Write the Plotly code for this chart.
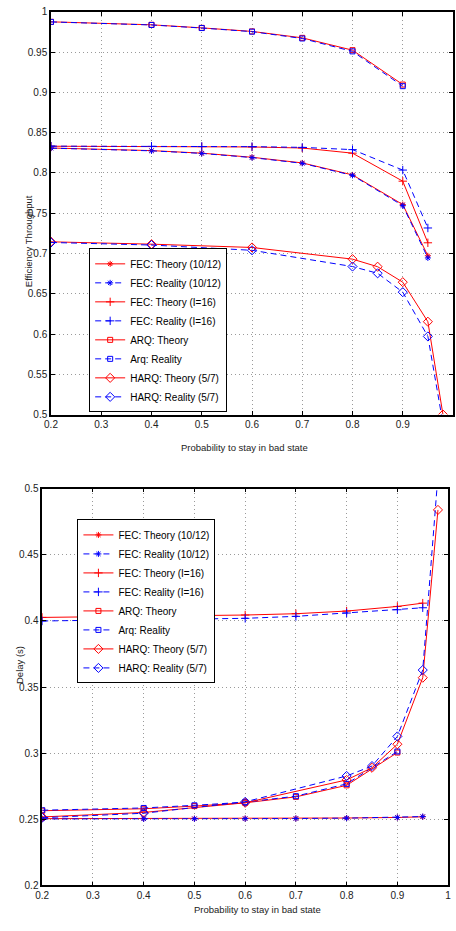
import plotly.graph_objects as go

W, H = 456, 931

# ---------------- data ----------------
x_fec = [0.2, 0.4, 0.5, 0.6, 0.7, 0.8, 0.9, 0.95]
x_arq = [0.2, 0.4, 0.5, 0.6, 0.7, 0.8, 0.9]
x_harq = [0.2, 0.4, 0.6, 0.8, 0.85, 0.9, 0.95, 0.98]

series_names = ["FEC: Theory (10/12)", "FEC: Reality (10/12)",
                "FEC: Theory (I=16)", "FEC: Reality (I=16)",
                "ARQ: Theory", "Arq: Reality",
                "HARQ: Theory (5/7)", "HARQ: Reality (5/7)"]

# Efficiency throughput (top panel)
thr_fec1012_theory = [0.831, 0.8278, 0.8246, 0.8195, 0.8125, 0.7976, 0.7608, 0.6972]
thr_fec1012_reality = [0.8308, 0.8275, 0.8243, 0.8191, 0.812, 0.797, 0.7595, 0.6945]
thr_fec16_theory = [0.8332, 0.8329, 0.8327, 0.8323, 0.831, 0.8246, 0.7898, 0.7133]
thr_fec16_reality = [0.8333, 0.8331, 0.8329, 0.8327, 0.8318, 0.829, 0.8036, 0.7317]
thr_arq_theory = [0.9877, 0.984, 0.9802, 0.9758, 0.9678, 0.9525, 0.9098]
thr_arq_reality = [0.9876, 0.9838, 0.98, 0.9755, 0.967, 0.951, 0.9078]
thr_harq_theory = [0.7145, 0.7116, 0.7075, 0.693, 0.6836, 0.6644, 0.6153, 0.500]
thr_harq_reality = [0.7137, 0.7105, 0.704, 0.6838, 0.6754, 0.652, 0.597, 0.489]

# Delay (bottom panel)
del_fec1012_theory = [0.2505, 0.2505, 0.2505, 0.2506, 0.2507, 0.251, 0.2514, 0.2519]
del_fec1012_reality = [0.2503, 0.2503, 0.2504, 0.2505, 0.2506, 0.2509, 0.2514, 0.2521]
del_fec16_theory = [0.4027, 0.4035, 0.404, 0.4045, 0.4055, 0.4075, 0.411, 0.4135]
del_fec16_reality = [0.4, 0.401, 0.4015, 0.402, 0.4035, 0.406, 0.4085, 0.41]
del_arq_theory = [0.2565, 0.258, 0.26, 0.2625, 0.267, 0.2757, 0.3005]
del_arq_reality = [0.2569, 0.2586, 0.2606, 0.263, 0.2675, 0.2768, 0.3013]
del_harq_theory = [0.2518, 0.2552, 0.2625, 0.2798, 0.289, 0.3068, 0.3571, 0.484]
del_harq_reality = [0.2512, 0.2546, 0.2632, 0.2828, 0.2903, 0.3127, 0.3629, 0.51]

x_ticks = [0.2, 0.3, 0.4, 0.5, 0.6, 0.7, 0.8, 0.9, 1.0]
x_tick_labels = ["0.2", "0.3", "0.4", "0.5", "0.6", "0.7", "0.8", "0.9", "1"]
thr_ticks = [0.5, 0.55, 0.6, 0.65, 0.7, 0.75, 0.8, 0.85, 0.9, 0.95, 1.0]
thr_tick_labels = ["0.5", "0.55", "0.6", "0.65", "0.7", "0.75", "0.8", "0.85", "0.9", "0.95", "1"]
del_ticks = [0.2, 0.25, 0.3, 0.35, 0.4, 0.45, 0.5]
del_tick_labels = ["0.2", "0.25", "0.3", "0.35", "0.4", "0.45", "0.5"]

RED = "#ff0000"
BLUE = "#0000ff"
FONT = "Liberation Sans, Arial, sans-serif"
DASH = "6px,4px"

styles = [
    (RED, "solid", "asterisk-open", 5),
    (BLUE, DASH, "asterisk-open", 5),
    (RED, "solid", "cross-thin-open", 6),
    (BLUE, DASH, "cross-thin-open", 6),
    (RED, "solid", "square-open", 5),
    (BLUE, DASH, "square-open", 5),
    (RED, "solid", "diamond-open", 7),
    (BLUE, DASH, "diamond-open", 7),
]

top_sets = [(x_fec, thr_fec1012_theory), (x_fec, thr_fec1012_reality),
            (x_fec, thr_fec16_theory), (x_fec, thr_fec16_reality),
            (x_arq, thr_arq_theory), (x_arq, thr_arq_reality),
            (x_harq, thr_harq_theory), (x_harq, thr_harq_reality)]
bot_sets = [(x_fec, del_fec1012_theory), (x_fec, del_fec1012_reality),
            (x_fec, del_fec16_theory), (x_fec, del_fec16_reality),
            (x_arq, del_arq_theory), (x_arq, del_arq_reality),
            (x_harq, del_harq_theory), (x_harq, del_harq_reality)]

fig = go.Figure()

for (xs, ys), name, (c, d, sym, sz) in zip(top_sets, series_names, styles):
    fig.add_trace(go.Scatter(
        x=xs, y=ys, name=name, mode="lines+markers",
        line=dict(color=c, width=1, dash=d),
        marker=dict(symbol=sym, size=sz, color=c, line=dict(color=c, width=1)),
        xaxis="x", yaxis="y", legend="legend"))

for (xs, ys), name, (c, d, sym, sz) in zip(bot_sets, series_names, styles):
    fig.add_trace(go.Scatter(
        x=xs, y=ys, name=name, mode="lines+markers",
        line=dict(color=c, width=1, dash=d),
        marker=dict(symbol=sym, size=sz, color=c, line=dict(color=c, width=1)),
        xaxis="x2", yaxis="y2", legend="legend2"))

axis_common = dict(
    showline=True, linecolor="black", linewidth=1.5, mirror="ticks",
    ticks="inside", ticklen=4, tickcolor="black", tickwidth=1,
    showgrid=True, gridcolor="#9a9a9a", gridwidth=1, griddash="1px,3px",
    zeroline=False, tickfont=dict(family=FONT, size=10, color="#222222"),
)

legend_common = dict(
    xanchor="left", yanchor="top",
    bgcolor="white", bordercolor="black", borderwidth=1,
    font=dict(family=FONT, size=10, color="black"),
    itemwidth=30, tracegroupgap=0,
)

fig.update_layout(
    width=W, height=H,
    margin=dict(l=0, r=0, t=0, b=0),
    paper_bgcolor="white", plot_bgcolor="white",
    font=dict(family=FONT, size=10, color="black"),
    xaxis=dict(domain=[45 / W, 1.0], range=[0.2, 1.0], anchor="y",
               tickvals=x_ticks, ticktext=x_tick_labels, **axis_common),
    yaxis=dict(domain=[1 - 414 / H, 1 - 7 / H], range=[0.5, 1.0], anchor="x",
               tickvals=thr_ticks, ticktext=thr_tick_labels, **axis_common),
    xaxis2=dict(domain=[36 / W, 451 / W], range=[0.2, 1.0], anchor="y2",
                tickvals=x_ticks, ticktext=x_tick_labels, **axis_common),
    yaxis2=dict(domain=[1 - 890 / H, 1 - 489 / H], range=[0.2, 0.5], anchor="x2",
                tickvals=del_ticks, ticktext=del_tick_labels, **axis_common),
    legend=dict(x=84 / W, y=1 - 246 / H, **legend_common),
    legend2=dict(x=72 / W, y=1 - 520 / H, **legend_common),
    showlegend=True,
    annotations=[
        dict(text="Probability to stay in bad state", x=243 / W, y=1 - 447 / H,
             xref="paper", yref="paper", showarrow=False,
             font=dict(family=FONT, size=9.5, color="#222222")),
        dict(text="Probability to stay in bad state", x=256 / W, y=1 - 922 / H,
             xref="paper", yref="paper", showarrow=False,
             font=dict(family=FONT, size=9.5, color="#222222")),
        dict(text="Efficiency Throughput", x=15 / W, y=1 - 190 / H, textangle=-90,
             xref="paper", yref="paper", showarrow=False,
             font=dict(family=FONT, size=9.5, color="#222222")),
        dict(text="Delay (s)", x=5 / W, y=1 - 688 / H, textangle=-90,
             xref="paper", yref="paper", showarrow=False,
             font=dict(family=FONT, size=9.5, color="#222222")),
    ],
)

fig.write_html(
    "out.html",
    config={"displayModeBar": False},
    post_script="document.body.style.margin='0';document.body.style.padding='0';"
                "document.body.style.overflow='hidden';"
                "document.documentElement.style.overflow='hidden';",
)
